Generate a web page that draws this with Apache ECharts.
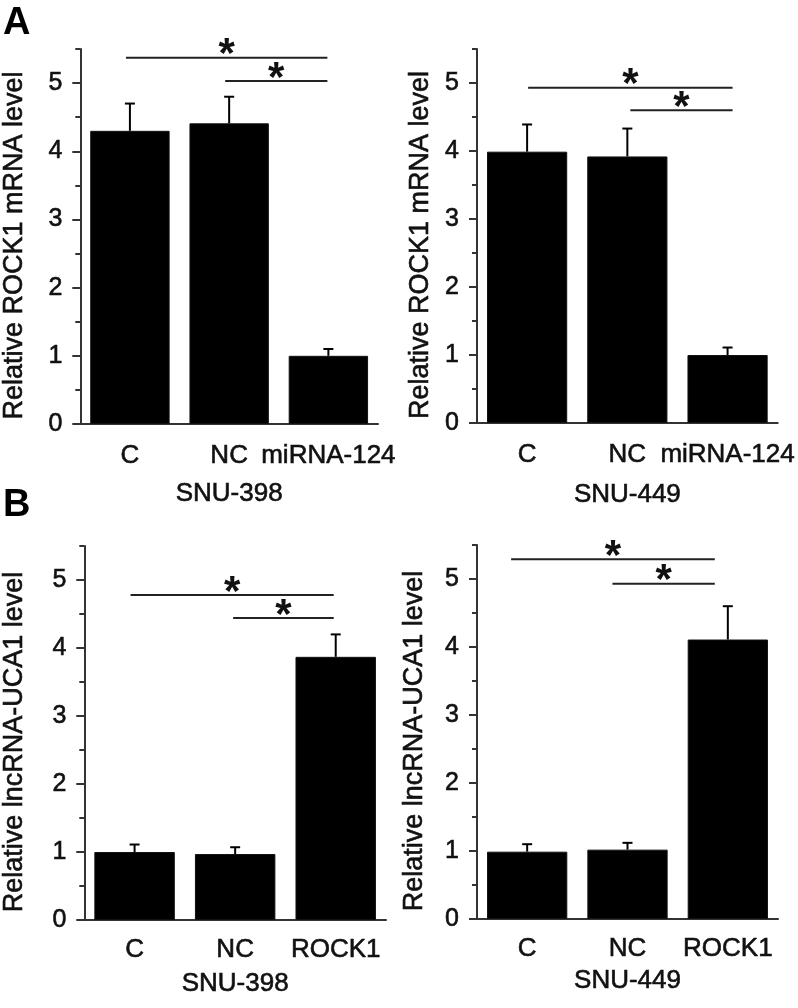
<!DOCTYPE html>
<html>
<head>
<meta charset="utf-8">
<script src="https://cdn.jsdelivr.net/npm/echarts@6/dist/echarts.min.js"></script>
<style>
  html, body { margin: 0; padding: 0; background: #fff; }
  #chart { width: 798px; height: 1008px; }
</style>
</head>
<body>
<div id="chart"></div>
<script>
// categories
const catsA = ['C', 'NC', 'miRNA-124']
const catsB = ['C', 'NC', 'ROCK1']

// A: ROCK1 mRNA
const rock398 = [4.30, 4.41, 1.00]
const rock398Err = [0.40, 0.39, 0.10]
const rock449 = [3.99, 3.92, 1.00]
const rock449Err = [0.40, 0.41, 0.11]

// B: lncRNA-UCA1
const uca398 = [1.00, 0.97, 3.87]
const uca398Err = [0.11, 0.10, 0.33]
const uca449 = [0.99, 1.02, 4.11]
const uca449Err = [0.11, 0.10, 0.49]

// significance bars: [from, to, level] (category index units)
const sigA398 = [[-0.04, 1.99, 5.37], [0.96, 1.99, 5.03]]
const sigA449 = [[0.01, 2.05, 4.93], [1.03, 2.05, 4.60]]
const sigB398 = [[-0.04, 1.98, 4.78], [0.98, 1.98, 4.44]]
const sigB449 = [[-0.16, 1.87, 5.29], [0.85, 1.87, 4.93]]

// y ticks
const yMajor = [0, 1, 2, 3, 4, 5]
const yMinor = [0.5, 1.5, 2.5, 3.5, 4.5, 5.5]

const FONT = 'Liberation Sans, Arial, sans-serif'
const AX = '#333'
const TXT = '#111'
// slight outline so text weight is closer to the scanned figure
const heavy = { color: TXT, fontFamily: FONT, textBorderColor: TXT, textBorderWidth: 0.6 }

const panels = [
  { left: 77, top: 49, width: 301, height: 375, cats: catsA, vals: rock398, errs: rock398Err, sig: sigA398,
    yName: 'Relative ROCK1 mRNA level', xName: 'SNU-398', yGap: 52, xGap: 57, labGap: 19 },
  { left: 477, top: 49, width: 301, height: 374, cats: catsA, vals: rock449, errs: rock449Err, sig: sigA449,
    yName: 'Relative ROCK1 mRNA level', xName: 'SNU-449', yGap: 43, xGap: 59, labGap: 19 },
  { left: 81, top: 546, width: 305, height: 374, cats: catsB, vals: uca398, errs: uca398Err, sig: sigB398,
    yName: 'Relative lncRNA-UCA1 level', xName: 'SNU-398', yGap: 56, xGap: 51, labGap: 17 },
  { left: 477, top: 545, width: 301, height: 374, cats: catsB, vals: uca449, errs: uca449Err, sig: sigB449,
    yName: 'Relative lncRNA-UCA1 level', xName: 'SNU-449', yGap: 49, xGap: 49, labGap: 17 }
]

const grid = [], xAxis = [], yAxis = [], series = []

panels.forEach((p, i) => {
  grid.push({ left: p.left, top: p.top, width: p.width, height: p.height })
  const x0 = i * 3, y0 = i * 2
  // main category axis: boundary ticks, labels, group name
  xAxis.push({
    type: 'category', gridIndex: i, data: p.cats,
    axisLine: { onZero: false, lineStyle: { color: AX, width: 2 } },
    axisTick: { length: 3, lineStyle: { color: AX, width: 2 } },
    axisLabel: { ...heavy, fontSize: 26, margin: p.labGap, interval: 0 },
    name: p.xName, nameLocation: 'middle', nameGap: p.xGap,
    nameTextStyle: { ...heavy, fontSize: 26 }
  })
  // overlay category axis: ticks at category centres
  xAxis.push({
    type: 'category', gridIndex: i, data: p.cats,
    axisLine: { show: false, onZero: false },
    axisTick: { alignWithLabel: true, length: 8, lineStyle: { color: AX, width: 2 } },
    axisLabel: { show: false }
  })
  // hidden value axis for annotations
  xAxis.push({ type: 'value', gridIndex: i, min: -0.5, max: 2.5, show: false })

  yAxis.push({
    type: 'value', gridIndex: i, min: 0, max: 5.5, position: 'left',
    axisLine: { show: true, onZero: false, lineStyle: { color: AX, width: 2 } },
    axisTick: { show: true, length: 8, customValues: yMajor, lineStyle: { color: AX, width: 2 } },
    axisLabel: { ...heavy, customValues: yMajor, fontSize: 25, margin: 18 },
    splitLine: { show: false },
    name: p.yName, nameLocation: 'middle', nameGap: p.yGap, nameRotate: 90,
    nameTextStyle: { ...heavy, fontSize: 27, padding: [0, 18, 0, 0] }
  })
  yAxis.push({
    type: 'value', gridIndex: i, min: 0, max: 5.5, position: 'left',
    axisLine: { show: false, onZero: false },
    axisTick: { show: true, length: 5, customValues: yMinor, lineStyle: { color: AX, width: 2 } },
    axisLabel: { show: false },
    splitLine: { show: false }
  })

  series.push({
    type: 'bar', xAxisIndex: x0, yAxisIndex: y0, data: p.vals, barWidth: '80%',
    itemStyle: { color: '#000', borderColor: '#111', borderWidth: 1 }
  })
  series.push({
    type: 'custom', xAxisIndex: x0, yAxisIndex: y0, z: 3,
    data: p.vals.map((v, k) => [k, v, p.errs[k]]),
    renderItem: (params, api) => {
      const base = api.coord([api.value(0), api.value(1)])
      const top = api.coord([api.value(0), api.value(1) + api.value(2)])
      const st = { stroke: '#000', lineWidth: 2 }
      return {
        type: 'group',
        children: [
          { type: 'line', shape: { x1: top[0], y1: base[1], x2: top[0], y2: top[1] }, style: st },
          { type: 'line', shape: { x1: top[0] - 5, y1: top[1], x2: top[0] + 5, y2: top[1] }, style: st }
        ]
      }
    }
  })
  series.push({
    type: 'custom', xAxisIndex: x0 + 2, yAxisIndex: y0, z: 3,
    data: p.sig,
    encode: { x: [0, 1], y: 2 },
    renderItem: (params, api) => {
      const a = api.coord([api.value(0), api.value(2)])
      const b = api.coord([api.value(1), api.value(2)])
      return {
        type: 'group',
        children: [
          { type: 'line', shape: { x1: a[0], y1: a[1], x2: b[0], y2: b[1] }, style: { stroke: '#222', lineWidth: 2 } },
          { type: 'text', x: (a[0] + b[0]) / 2, y: a[1] - 2,
            style: { text: '*', fill: '#111', font: 'bold 42px ' + FONT, align: 'center', verticalAlign: 'middle' } }
        ]
      }
    }
  })
})

const chart = echarts.init(document.getElementById('chart'))
chart.setOption({
  backgroundColor: '#fff',
  animation: false,
  title: [
    { text: 'A', left: -2, top: 0, textStyle: { fontSize: 38, fontWeight: 'bold', fontFamily: FONT, color: '#000' } },
    { text: 'B', left: -2, top: 482, textStyle: { fontSize: 38, fontWeight: 'bold', fontFamily: FONT, color: '#000' } }
  ],
  grid,
  xAxis,
  yAxis,
  series
})
</script>
</body>
</html>
